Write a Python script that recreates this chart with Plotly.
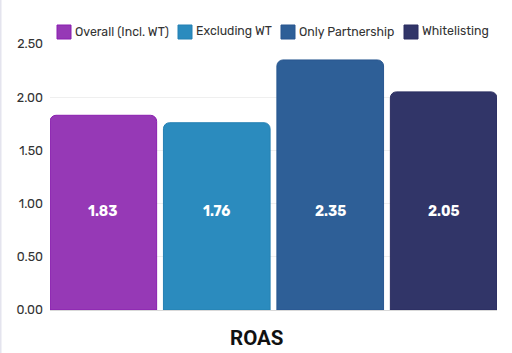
import plotly.graph_objects as go

categories = ["ROAS"]
series_names = ["Overall (Incl. WT)", "Excluding WT", "Only Partnership", "Whitelisting"]
series_values = [1.83, 1.76, 2.35, 2.05]
colors = ["#9639B6", "#2B8BBE", "#2E5F97", "#313568"]
line_colors = ["#8A1FB0", "#2580B3", "#285790", "#2A2D60"]
tick_vals = [0, 0.5, 1.0, 1.5, 2.0, 2.5]

W, H = 512, 353
ML, MR, MT, MB = 50, 15, 44, 43
PW, PH = W - ML - MR, H - MT - MB
LABEL_Y = 0.93
legend_px = [57, 178, 281, 404]

def px_x(p):
    return (p - ML) / PW

def px_y(p):
    return (H - MB - p) / PH

g = 0.06
fig = go.Figure()
for i, (name, val, c, lc) in enumerate(zip(series_names, series_values, colors, line_colors)):
    fig.add_trace(go.Bar(
        x=categories, y=[val], name=name, offsetgroup=str(i),
        marker=dict(color=c, line=dict(color=lc, width=1), cornerradius=6),
        hoverinfo="skip", showlegend=False,
    ))

annotations = []
shapes = []
for i, (name, val, c, lc) in enumerate(zip(series_names, series_values, colors, line_colors)):
    xc = -0.5 + (i + 0.5) * 0.25
    annotations.append(dict(
        x=xc, y=LABEL_Y, xref="x", yref="y", text=f"<b>{val:.2f}</b>", showarrow=False,
        font=dict(color="white", size=14, family="Rubik, Roboto, sans-serif"),
        xanchor="center", yanchor="middle"))
    lx = legend_px[i]
    shapes.append(dict(type="rect", xref="paper", yref="paper",
                       x0=px_x(lx), x1=px_x(lx + 14), y0=px_y(39), y1=px_y(25),
                       fillcolor=c, line=dict(color=lc, width=1)))
    annotations.append(dict(
        x=px_x(lx + 16), y=px_y(31.5), xref="paper", yref="paper", text=name, showarrow=False,
        font=dict(color="#333333", size=12.3, family="Rubik, Roboto, sans-serif"),
        xanchor="left", yanchor="middle"))

# category label centred on the page
annotations.append(dict(
    x=px_x(W / 2), y=px_y(338), xref="paper", yref="paper", text=f"<b>{categories[0]}</b>",
    showarrow=False, font=dict(color="#111111", size=20.5, family="Roboto, sans-serif"),
    xanchor="center", yanchor="middle"))

shapes.append(dict(type="line", xref="paper", yref="paper", x0=px_x(0.5), x1=px_x(0.5),
                   y0=px_y(H), y1=px_y(0), line=dict(color="#E4E4EE", width=2)))

fig.update_layout(
    width=W, height=H,
    margin=dict(l=ML, r=MR, t=MT, b=MB, autoexpand=False),
    paper_bgcolor="white", plot_bgcolor="white",
    barmode="group", bargap=0, bargroupgap=g,
    font=dict(family="Rubik, Roboto, sans-serif", color="#333333"),
    showlegend=False,
    annotations=annotations, shapes=shapes,
)
fig.update_xaxes(range=[-0.5 + g / 8, 0.5 - g / 8], showgrid=False, showline=True,
                 linecolor="#D9D9D9", linewidth=1, ticks="", showticklabels=False)
fig.update_yaxes(range=[0, 2.5], tickvals=tick_vals, tickformat=".2f",
                 showgrid=True, gridcolor="#EFEFEF", gridwidth=1, zeroline=False,
                 tickfont=dict(size=12.5, color="#333333"), ticks="", ticklabelstandoff=6)

fig.write_html("out.html")
